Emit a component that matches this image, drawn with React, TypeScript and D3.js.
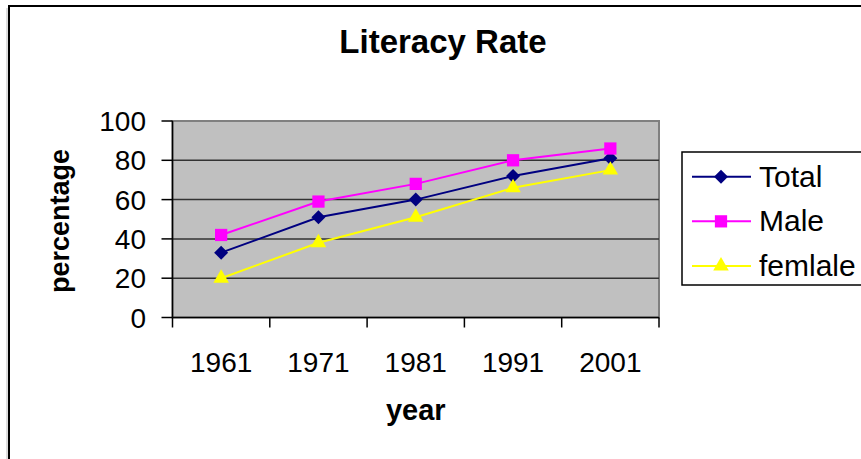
import * as d3 from 'd3';

const years = ['1961', '1971', '1981', '1991', '2001'];
const totalRate = [33, 51, 60, 72, 81];
const maleRate = [42, 59, 68, 80, 86];
const femaleRate = [20, 38, 51, 66, 75];
const yTicks = [0, 20, 40, 60, 80, 100];

const seriesNames = ['Total', 'Male', 'femlale'];
const seriesColors = ['#000080', '#FF00FF', '#FFFF00'];
const seriesValues = [totalRate, maleRate, femaleRate];

const W = 861;
const H = 459;
const plot = { left: 172.5, right: 659, top: 121, bottom: 317.5 };
const font = '"Liberation Sans", Arial, sans-serif';

const x = d3.scaleBand<string>().domain(years).range([plot.left, plot.right]);
const y = d3.scaleLinear().domain([0, 100]).range([plot.bottom, plot.top]);
const cx = (d: string) => (x(d) ?? 0) + x.bandwidth() / 2;

// marker shapes, excel style
const markerPath = (i: number) => {
  if (i === 0) return d3.symbol(d3.symbolSquare, 98)() as string; // rotated later -> diamond
  if (i === 1) return d3.symbol(d3.symbolSquare, 150)() as string;
  return d3.symbol(d3.symbolTriangle, 105)() as string;
};
const markerRotate = (i: number) => (i === 0 ? 45 : 0);

const legendRow = d3.scalePoint<string>().domain(seriesNames).range([176.7, 266]);

export default function App() {
  const line = d3
    .line<number>()
    .x((_, i) => cx(years[i]))
    .y((v) => y(v));

  const boundaries = years.map((d) => x(d) ?? 0).concat([plot.right]);

  return (
    <svg
      width={W}
      height={H}
      style={{ position: 'absolute', left: 0, top: 0, background: '#fff' }}
      fontFamily={font}
    >
      {/* outer chart frame */}
      <path d={`M9,${H + 5}V6H${W + 5}`} fill="none" stroke="#000" strokeWidth={2} />
      <line x1={7} y1={8} x2={7} y2={H} stroke="#bbb" strokeWidth={1} />

      <text x={443} y={53} textAnchor="middle" fontSize={33} fontWeight="bold">
        Literacy Rate
      </text>

      {/* plot area */}
      <rect
        x={plot.left}
        y={plot.top}
        width={plot.right - plot.left}
        height={plot.bottom - plot.top}
        fill="#C0C0C0"
        stroke="#808080"
        strokeWidth={2}
      />
      {yTicks
        .filter((t) => t > 0 && t < 100)
        .map((t) => (
          <line key={t} x1={plot.left} x2={plot.right} y1={y(t)} y2={y(t)} stroke="#333" strokeWidth={1.5} />
        ))}

      {/* y axis */}
      <line x1={plot.left} x2={plot.left} y1={plot.top} y2={plot.bottom} stroke="#000" strokeWidth={1.5} />
      {yTicks.map((t) => (
        <g key={t}>
          <line x1={plot.left - 11} x2={plot.left} y1={y(t)} y2={y(t)} stroke="#000" strokeWidth={1.5} />
          <text x={146} y={y(t) + 10} textAnchor="end" fontSize={28}>
            {t}
          </text>
        </g>
      ))}

      {/* x axis */}
      <line x1={plot.left} x2={plot.right} y1={plot.bottom} y2={plot.bottom} stroke="#000" strokeWidth={1.5} />
      {boundaries.map((b, i) => (
        <line key={i} x1={b} x2={b} y1={plot.bottom} y2={plot.bottom + 10} stroke="#000" strokeWidth={1.5} />
      ))}
      {years.map((d) => (
        <text key={d} x={cx(d)} y={372} textAnchor="middle" fontSize={28}>
          {d}
        </text>
      ))}

      <text x={(plot.left + plot.right) / 2} y={420} textAnchor="middle" fontSize={29} fontWeight="bold">
        year
      </text>
      <text
        transform="translate(68.5,221) rotate(-90)"
        textAnchor="middle"
        fontSize={27}
        fontWeight="bold"
      >
        percentage
      </text>

      {/* series */}
      {seriesValues.map((vals, si) => (
        <g key={si}>
          <path d={line(vals) ?? ''} fill="none" stroke={seriesColors[si]} strokeWidth={2} />
          {vals.map((v, i) => (
            <path
              key={i}
              d={markerPath(si)}
              transform={`translate(${cx(years[i])},${y(v)}) rotate(${markerRotate(si)})`}
              fill={seriesColors[si]}
            />
          ))}
        </g>
      ))}

      {/* legend */}
      <rect x={682} y={152} width={220} height={133} fill="#fff" stroke="#000" strokeWidth={1.5} />
      {seriesNames.map((name, si) => {
        const ry = legendRow(name) ?? 0;
        return (
          <g key={name}>
            <line x1={692} x2={751} y1={ry} y2={ry} stroke={seriesColors[si]} strokeWidth={2} />
            <path
              d={markerPath(si)}
              transform={`translate(721,${ry}) rotate(${markerRotate(si)})`}
              fill={seriesColors[si]}
            />
            <text x={759} y={ry + 10} fontSize={30}>
              {name}
            </text>
          </g>
        );
      })}
    </svg>
  );
}
